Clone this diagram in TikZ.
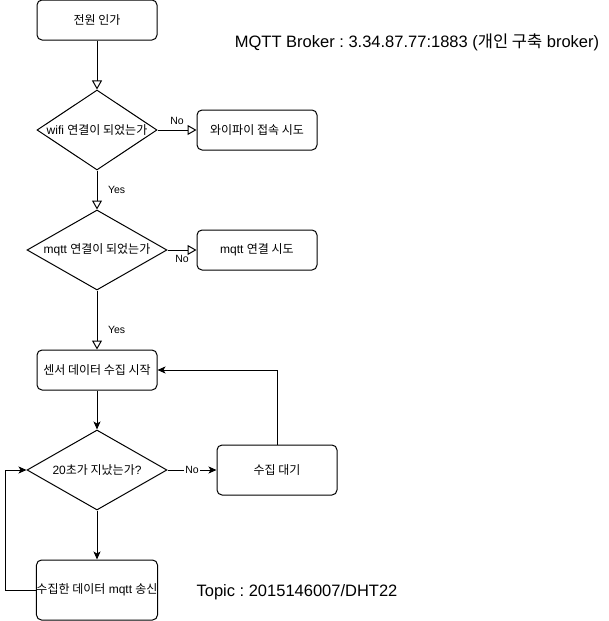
\documentclass[tikz,border=0pt]{standalone}
\usepackage{fontspec}
\setmainfont{Liberation Sans}
\newfontfamily\kr{Noto Sans CJK KR}
\usetikzlibrary{shapes.geometric,arrows.meta}
\frenchspacing

\begin{document}
\begin{tikzpicture}[x=1pt, y=-1pt, line width=1pt,
    stepbox/.style={draw, rounded corners=5pt, minimum width=120pt,
      minimum height=40pt, inner sep=0pt, font=\fontsize{12}{14}\selectfont},
    decision/.style={draw, diamond, minimum width=140pt, minimum height=80pt,
      inner sep=0pt, label={[font=\fontsize{12}{14}\selectfont]center:#1}},
    openarrow/.style={-{Triangle[open, length=9pt, width=10pt]}},
    fillarrow/.style={-{Stealth[length=8pt, width=7pt, inset=2pt]}},
    tag/.style={font=\fontsize{10.5}{12}\selectfont, inner sep=1.5pt}]
  \useasboundingbox (0,0) rectangle (608,621);

  % Boxes
  \node[stepbox] (power) at (97,20) {\kr 전원 인가};
  \node[decision={wifi {\kr 연결이 되었는가}}, minimum width=120pt] (wifi) at (97,130) {};
  \node[stepbox] (wifitry) at (257,130) {\kr 와이파이 접속 시도};
  \node[decision={mqtt {\kr 연결이 되었는가}}] (mqtt) at (97,250) {};
  \node[stepbox] (mqtttry) at (257,250) {mqtt {\kr 연결 시도}};
  \node[stepbox] (start) at (97,370) {\kr 센서 데이터 수집 시작};
  \node[decision={20{\kr 초가 지났는가}?}] (timer) at (97,470) {};
  \node[stepbox, minimum height=50pt] (wait) at (277,470) {\kr 수집 대기};
  \node[stepbox, minimum height=60pt] (send) at (97,590) {{\kr 수집한 데이터} mqtt {\kr 송신}};

  % Notes
  \node[font=\fontsize{16.5}{19}\selectfont] (broker) at (417,42)
    {MQTT Broker : 3.34.87.77:1883 ({\kr 개인 구축} broker)};
  \node[font=\fontsize{16.5}{19}\selectfont] (topic) at (297,592)
    {Topic : 2015146007/DHT22};

  % Connection checks
  \draw[openarrow] (power) -- (wifi);
  \draw[openarrow] (wifi) -- node[tag, above, yshift=3pt] {No} (wifitry);
  \draw[openarrow] (wifi) -- node[tag, right, xshift=9pt] {Yes} (mqtt);
  \draw[openarrow] (mqtt) -- node[tag, below, yshift=-3pt] {No} (mqtttry);
  \draw[openarrow] (mqtt) -- node[tag, right, xshift=9pt, pos=0.67] {Yes} (start);

  % Measuring loop
  \draw[fillarrow] (start) -- (timer);
  \draw[fillarrow] (timer) -- node[tag, fill=white] {No} (wait);
  \draw[fillarrow] (wait.north) |- (start.east);
  \draw[fillarrow] (timer) -- (send);
  \draw[fillarrow] (send.west) -- ++(-30,0) |- (timer.west);
\end{tikzpicture}
\end{document}
